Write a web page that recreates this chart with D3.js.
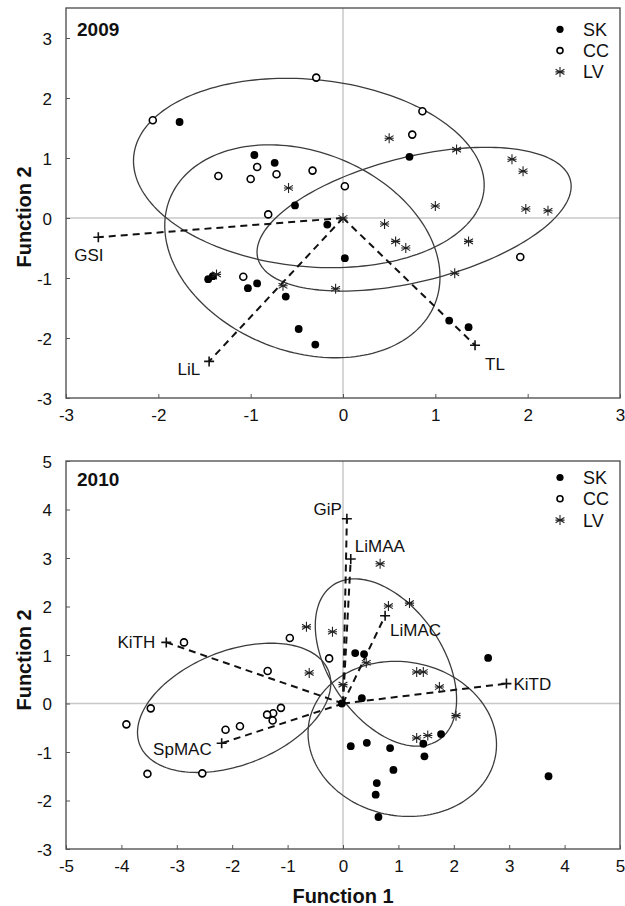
<!DOCTYPE html>
<html>
<head>
<meta charset="utf-8">
<script src="https://cdn.jsdelivr.net/npm/d3@7"></script>
<style>
  body { margin: 0; background: #fff; }
  text { font-family: "Liberation Sans", Arial, sans-serif; fill: #111; }
</style>
</head>
<body>
<div id="chart"></div>
<script>
// ---- 2009 data (function 1, function 2) ----
const sk09 = [[-1.77,1.60],[-0.96,1.05],[-0.74,0.92],[0.72,1.02],[-0.52,0.21],[-0.17,-0.11],[0.02,-0.67],
  [-1.46,-1.02],[-1.41,-0.97],[-1.03,-1.17],[-0.93,-1.09],[-0.62,-1.31],[-0.48,-1.85],[-0.30,-2.11],[1.15,-1.71],[1.36,-1.82]];
const cc09 = [[-2.06,1.63],[-0.29,2.34],[-1.35,0.70],[-0.93,0.85],[-1.00,0.65],[-0.72,0.73],[-0.33,0.79],
  [0.02,0.53],[0.86,1.78],[0.75,1.39],[-0.81,0.06],[-1.08,-0.98],[1.92,-0.65]];
const lv09 = [[-0.59,0.50],[0.50,1.33],[1.23,1.14],[1.83,0.98],[1.95,0.78],[1.00,0.20],[1.98,0.15],[2.22,0.12],
  [0.45,-0.10],[0.57,-0.39],[0.68,-0.50],[1.36,-0.39],[1.21,-0.92],[-0.08,-1.18],[-0.65,-1.13],[-1.37,-0.94],[0.00,0.00]];
const vecNames09 = ["GSI", "LiL", "TL"];
const vecX09 = [-2.65, -1.45, 1.43];
const vecY09 = [-0.32, -2.39, -2.12];
// ellipses: centre x, centre y, semi axes, angle (deg) - order CC, SK, LV
const ellCx09 = [-0.37, -0.44, 0.77];
const ellCy09 = [0.75, -0.555, -0.02];
const ellA09 = [1.93, 1.864, 1.83];
const ellB09 = [1.54, 1.377, 0.99];
const ellAng09 = [-17.2, -63, 26];

// ---- 2010 data ----
const sk10 = [[0.22,1.04],[0.38,1.02],[2.62,0.94],[0.34,0.11],[-0.02,0.00],[0.14,-0.88],[0.43,-0.81],[0.85,-0.92],
  [1.77,-0.63],[1.45,-0.83],[1.47,-1.09],[0.91,-1.37],[0.61,-1.64],[0.59,-1.88],[0.64,-2.34],[3.71,-1.50]];
const cc10 = [[-2.87,1.26],[-0.96,1.35],[-0.25,0.93],[-1.36,0.67],[-3.47,-0.10],[-3.91,-0.43],[-1.12,-0.09],
  [-1.26,-0.20],[-1.37,-0.23],[-1.27,-0.35],[-1.86,-0.47],[-2.12,-0.54],[-3.53,-1.45],[-2.54,-1.44]];
const lv10 = [[0.67,2.88],[0.82,2.01],[1.20,2.07],[-0.66,1.58],[-0.19,1.48],[-0.61,0.63],[0.00,0.39],[0.42,0.84],
  [1.33,0.65],[1.45,0.65],[1.74,0.34],[2.04,-0.25],[1.33,-0.71],[1.53,-0.66]];
const vecNames10 = ["GiP", "LiMAA", "LiMAC", "KiTH", "SpMAC", "KiTD"];
const vecX10 = [0.07, 0.14, 0.76, -3.19, -2.19, 2.95];
const vecY10 = [3.81, 2.98, 1.81, 1.26, -0.82, 0.41];
// order CC, LV, SK
const ellCx10 = [-1.965, 0.775, 1.07];
const ellCy10 = [-0.09, 0.845, -0.73];
const ellA10 = [1.87, 1.866, 1.728];
const ellB10 = [1.15, 1.058, 1.57];
const ellAng10 = [27.2, -62.4, -25];

const groups = ["SK", "CC", "LV"];
const xTicks09 = [-3, -2, -1, 0, 1, 2, 3];
const yTicks09 = [-3, -2, -1, 0, 1, 2, 3];
const xTicks10 = [-5, -4, -3, -2, -1, 0, 1, 2, 3, 4, 5];
const yTicks10 = [-3, -2, -1, 0, 1, 2, 3, 4, 5];

const W = 625, H = 906;
const svg = d3.select("#chart").append("svg").attr("width", W).attr("height", H);

// label offsets (px) from the end of each vector: [dx, dy, anchor]
const labelPos = {
  GSI: [-24, 24, "start"], LiL: [-9, 14, "end"], TL: [10, 25, "start"],
  GiP: [-5, -4, "end"], LiMAA: [4, -7, "start"], LiMAC: [5, 20, "start"],
  KiTH: [-11, 6, "end"], SpMAC: [-10, 12, "end"], KiTD: [7, 6, "start"]
};

function drawPanel(cfg) {
  const g = svg.append("g");
  const x = d3.scaleLinear().domain(cfg.xDom).range([66, 620]);
  const y = d3.scaleLinear().domain(cfg.yDom).range(cfg.yRange);

  // zero lines
  g.append("line").attr("x1", x(cfg.xDom[0])).attr("x2", x(cfg.xDom[1]))
    .attr("y1", y(0)).attr("y2", y(0)).attr("stroke", "#c8c8c8").attr("stroke-width", 1.5);
  g.append("line").attr("x1", x(0)).attr("x2", x(0))
    .attr("y1", y(cfg.yDom[0])).attr("y2", y(cfg.yDom[1])).attr("stroke", "#c8c8c8").attr("stroke-width", 1.5);

  // axes, ticks pointing inwards, plain hyphen for negatives
  const fmt = d => String(d);
  const xAxis = d3.axisBottom(x).tickValues(cfg.xTicks).tickSizeInner(-4).tickSizeOuter(0).tickPadding(11).tickFormat(fmt);
  const yAxis = d3.axisLeft(y).tickValues(cfg.yTicks).tickSizeInner(-4).tickSizeOuter(0).tickPadding(14).tickFormat(fmt);
  const gx = g.append("g").attr("transform", "translate(0," + y(cfg.yDom[0]) + ")").call(xAxis);
  const gy = g.append("g").attr("transform", "translate(66,0)").call(yAxis);
  [gx, gy].forEach(a => {
    a.select(".domain").remove();
    a.selectAll("line").attr("stroke", "#555");
    a.selectAll("text").style("font-size", "17px").attr("fill", "#111").style("font-family", '"Liberation Sans", Arial, sans-serif');
  });
  gy.selectAll("text").attr("dy", "0.36em");

  // frame
  g.append("rect").attr("x", 66).attr("y", y(cfg.yDom[1]))
    .attr("width", 620 - 66).attr("height", y(cfg.yDom[0]) - y(cfg.yDom[1]))
    .attr("fill", "none").attr("stroke", "#555").attr("stroke-width", 1.4);

  // ellipses
  const line = d3.line().x(d => x(d[0])).y(d => y(d[1])).curve(d3.curveLinearClosed);
  cfg.ellCx.forEach((cx, i) => {
    const a = cfg.ellA[i], b = cfg.ellB[i], phi = cfg.ellAng[i] * Math.PI / 180;
    const pts = d3.range(0, 2 * Math.PI, Math.PI / 90).map(t => [
      cx + a * Math.cos(t) * Math.cos(phi) - b * Math.sin(t) * Math.sin(phi),
      cfg.ellCy[i] + a * Math.cos(t) * Math.sin(phi) + b * Math.sin(t) * Math.cos(phi)
    ]);
    g.append("path").attr("d", line(pts)).attr("fill", "none")
      .attr("stroke", "#3c3c3c").attr("stroke-width", 1.3);
  });

  // vectors
  const vec = g.selectAll(".vec").data(cfg.vecNames).enter().append("g");
  vec.append("line")
    .attr("x1", x(0)).attr("y1", y(0))
    .attr("x2", (d, i) => x(cfg.vecX[i])).attr("y2", (d, i) => y(cfg.vecY[i]))
    .attr("stroke", "#111").attr("stroke-width", 2).attr("stroke-dasharray", "7,5");
  vec.append("path")
    .attr("d", "M-5,0H5M0,-5V5")
    .attr("transform", (d, i) => "translate(" + x(cfg.vecX[i]) + "," + y(cfg.vecY[i]) + ")")
    .attr("stroke", "#111").attr("stroke-width", 1.6);
  vec.append("text")
    .attr("x", (d, i) => x(cfg.vecX[i]) + labelPos[d][0])
    .attr("y", (d, i) => y(cfg.vecY[i]) + labelPos[d][1])
    .attr("text-anchor", d => labelPos[d][2])
    .style("font-size", "17px")
    .text(d => d);

  // points
  drawMarkers(g, cfg.sk, "SK", x, y);
  drawMarkers(g, cfg.cc, "CC", x, y);
  drawMarkers(g, cfg.lv, "LV", x, y);

  // title
  g.append("text").attr("x", 77).attr("y", cfg.titleY).style("font-size", "19px")
    .style("font-weight", "bold").text(cfg.title);

  // legend
  const leg = g.selectAll(".leg").data(groups).enter().append("g")
    .attr("transform", (d, i) => "translate(560," + (cfg.legY + i * 21.3) + ")");
  leg.each(function (d) { symbol(d3.select(this), d, true); });
  leg.append("text").attr("x", 23).attr("y", 6.5).style("font-size", "18px").text(d => d);

  // y title
  g.append("text")
    .attr("transform", "translate(31," + cfg.yLabY + ") rotate(-90)")
    .attr("text-anchor", "middle").style("font-size", "20px").style("font-weight", "bold")
    .text("Function 2");
  return {x, y};
}

function symbol(sel, type, small) {
  if (type === "SK") {
    sel.append("circle").attr("r", small ? 3.6 : 3.9).attr("fill", "#000");
  } else if (type === "CC") {
    sel.append("circle").attr("r", small ? 3 : 3.5).attr("fill", "#fff")
      .attr("stroke", "#000").attr("stroke-width", 1.6);
  } else {
    sel.append("path").attr("d", "M0,-5V5M-4.4,-2.6L4.4,2.6M-4.4,2.6L4.4,-2.6M-4.6,0H4.6")
      .attr("stroke", "#222").attr("stroke-width", 1.1).attr("fill", "none");
  }
}

function drawMarkers(g, data, type, x, y) {
  g.append("g").selectAll("g")
    .data(data).enter().append("g")
    .attr("transform", d => "translate(" + x(d[0]) + "," + y(d[1]) + ")")
    .each(function () { symbol(d3.select(this), type, false); });
}

drawPanel({
  xDom: [-3, 3], yDom: [-3, 3.5], yRange: [398, 8],
  xTicks: xTicks09, yTicks: yTicks09,
  sk: sk09, cc: cc09, lv: lv09,
  vecNames: vecNames09, vecX: vecX09, vecY: vecY09,
  ellCx: ellCx09, ellCy: ellCy09, ellA: ellA09, ellB: ellB09, ellAng: ellAng09,
  title: "2009", titleY: 35.5, legY: 29.3, yLabY: 217
});

drawPanel({
  xDom: [-5, 5], yDom: [-3, 5], yRange: [849, 461],
  xTicks: xTicks10, yTicks: yTicks10,
  sk: sk10, cc: cc10, lv: lv10,
  vecNames: vecNames10, vecX: vecX10, vecY: vecY10,
  ellCx: ellCx10, ellCy: ellCy10, ellA: ellA10, ellB: ellB10, ellAng: ellAng10,
  title: "2010", titleY: 485.5, legY: 477.5, yLabY: 660
});

// x title (bottom only)
svg.append("text").attr("x", 343).attr("y", 903).attr("text-anchor", "middle")
  .style("font-size", "20px").style("font-weight", "bold").text("Function 1");
</script>
</body>
</html>
